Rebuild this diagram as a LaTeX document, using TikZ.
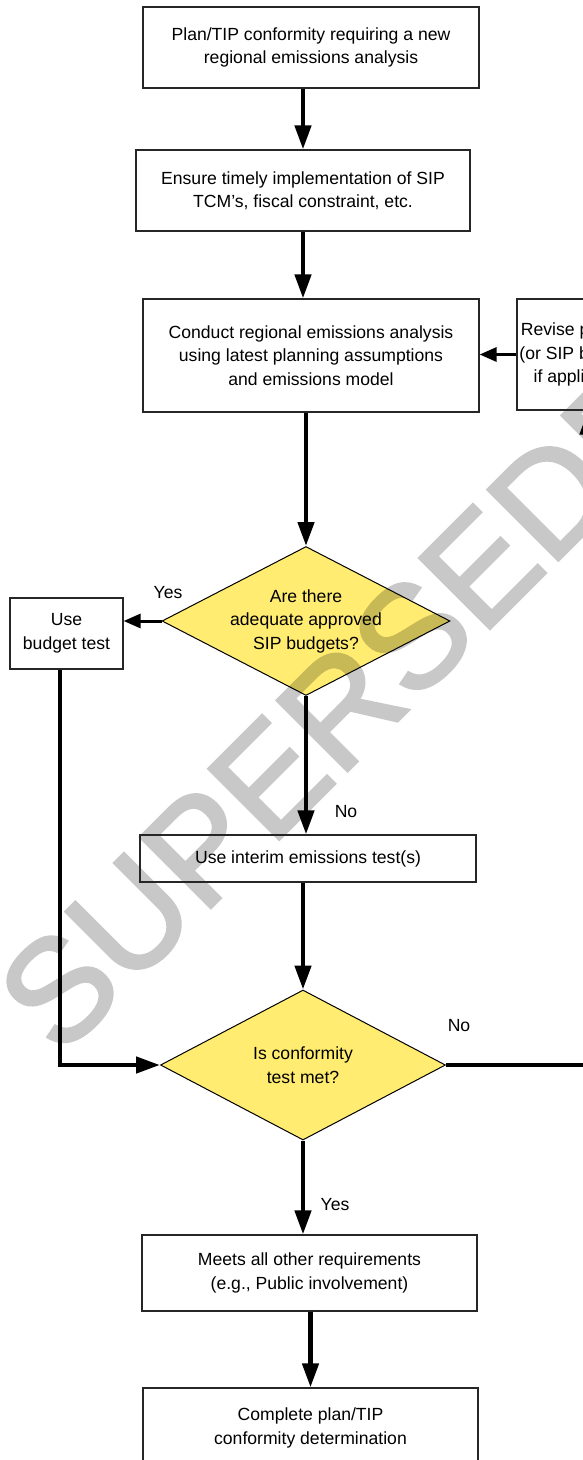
\documentclass[tikz,border=0pt]{standalone}
\usepackage{fontspec}
\setmainfont{Liberation Sans}
\newfontfamily\stampfont[FakeBold=2]{Liberation Sans}
\usetikzlibrary{shapes.geometric,arrows.meta}

\definecolor{qyellow}{RGB}{255,236,112}
\definecolor{stampgray}{RGB}{200,200,200}

\tikzset{
    stepbox/.style={draw=black!85, line width=1.2pt, align=center, inner sep=3pt},
    question/.style={diamond, draw=black, line width=1pt, fill=qyellow, align=center, inner sep=0pt, aspect=1.93},
    flow/.style={line width=4.5pt, -{Triangle[length=24pt,width=16pt]}},
    thinflow/.style={line width=3pt, -{Triangle[length=17pt,width=14pt]}},
}

\begin{document}
\begin{tikzpicture}[x=1pt,y=-1pt,font=\fontsize{17.6}{23.5}\selectfont]
    \useasboundingbox (0,0) rectangle (583,1460);

    % Watermark
    \node[rotate=45, text=stampgray, font=\stampfont\fontsize{145}{145}\selectfont] (stamp) at (378,670) {SUPERSEDED};

    % Nodes
    \node[stepbox, minimum width=336pt, minimum height=81pt] (plan) at (311,47.5) {Plan/TIP conformity requiring a new\\regional emissions analysis};
    \node[stepbox, minimum width=334pt, minimum height=81pt] (ensure) at (303,190.5) {Ensure timely implementation of SIP\\TCM’s, fiscal constraint, etc.};
    \node[stepbox, minimum width=336pt, minimum height=113pt] (analysis) at (311,355.5) {Conduct regional emissions analysis\\using latest planning assumptions\\and emissions model};
    \node[stepbox, minimum width=132pt, minimum height=111pt, inner sep=1pt] (revise) at (583,354.5) {Revise plan/TIP\\(or SIP budgets,\\if applicable)};
    \begin{scope}[blend mode=multiply]
        \node[question, minimum width=288pt, minimum height=149pt] (budgets) at (306,621) {Are there\\adequate approved\\SIP budgets?};
        \node[question, minimum width=285pt, minimum height=150pt] (met) at (303,1065) {Is conformity\\test met?};
    \end{scope}
    \node[stepbox, minimum width=113pt, minimum height=71pt] (budget) at (66.5,633.5) {Use\\budget test};
    \node[stepbox, minimum width=336pt, minimum height=47pt] (interim) at (308,858.5) {Use interim emissions test(s)};
    \node[stepbox, minimum width=335pt, minimum height=76pt] (other) at (309.5,1273) {Meets all other requirements\\(e.g., Public involvement)};
    \node[stepbox, minimum width=335pt, minimum height=80pt] (complete) at (310.5,1428) {Complete plan/TIP\\conformity determination};

    % Labels
    \node (yesbudget) at (168,593) {Yes};
    \node (nobudget) at (346,812) {No};
    \node (nomet) at (459,1026) {No};
    \node (yesmet) at (335,1205) {Yes};

    % Arrows
    \draw[flow] (plan.south -| ensure) -- (ensure.north);
    \draw[flow] (ensure.south) -- (ensure.south |- analysis.north);
    \draw[flow] (analysis.south -| budgets) -- (budgets.north);
    \draw[thinflow] (revise.west) -- (revise.west -| analysis.east);
    \draw[thinflow] (budgets.west) -- (budgets.west -| budget.east);
    \draw[flow] (budgets.south) -- (budgets.south |- interim.north);
    \draw[flow] (interim.south -| met) -- (met.north);
    \draw[flow] ([xshift=-6.5pt]budget.south) |- (met.west);
    \draw[flow] (met.east) -| ([xshift=5pt]revise.south);
    \draw[flow] (met.south) -- (met.south |- other.north);
    \draw[flow] (other.south -| complete) -- (complete.north);
\end{tikzpicture}
\end{document}
